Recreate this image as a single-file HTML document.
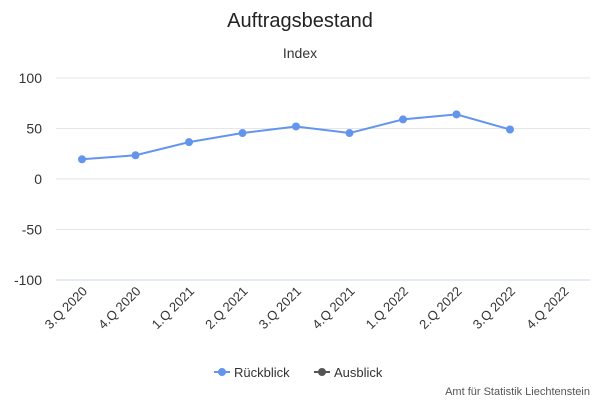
<!DOCTYPE html>
<html><head><meta charset="utf-8"><style>
body{margin:0;background:#fff;font-family:"Liberation Sans",sans-serif;}
svg text{font-family:"Liberation Sans",sans-serif;}
</style></head><body>
<svg width="600" height="400" id="c">
<text x="300" y="27" text-anchor="middle" font-size="20" fill="#222">Auftragsbestand</text>
<text x="300" y="58" text-anchor="middle" font-size="14" fill="#333">Index</text>
<g id="grid"></g><g id="xl"></g><g id="series"></g>
<g>
<g><line x1="214" y1="372" x2="230" y2="372" stroke="#6495ed" stroke-width="2"/><circle cx="222" cy="372" r="4" fill="#6495ed"/><text x="234" y="377" font-size="13" fill="#333">Rückblick</text></g>
<g><line x1="314" y1="372" x2="330" y2="372" stroke="#555" stroke-width="2"/><circle cx="322" cy="372" r="4" fill="#555"/><text x="334" y="377" font-size="13" fill="#333">Ausblick</text></g>
</g>
<text x="590" y="395" text-anchor="end" font-size="11" fill="#555">Amt für Statistik Liechtenstein</text>
</svg>
<script>
const categories=["3.Q 2020","4.Q 2020","1.Q 2021","2.Q 2021","3.Q 2021","4.Q 2021","1.Q 2022","2.Q 2022","3.Q 2022","4.Q 2022"];
const rueckblick=[19.5,23.5,36.5,45.5,52,45.5,59,64,49,null];
const yTicks=[100,50,0,-50,-100];
const NS="http://www.w3.org/2000/svg";
const L=55.25,R=590.25,bw=(R-L)/categories.length;
const x=i=>L+bw*(i+0.5);
const y=v=>179-v*1.01;
function mk(t,a,p){const e=document.createElementNS(NS,t);for(const k in a)e.setAttribute(k,a[k]);p.appendChild(e);return e;}
const g=document.getElementById('grid');
yTicks.forEach(t=>{
 const ln=mk('line',{x1:56,x2:590,y1:y(t),y2:y(t),stroke:t===-100?'#ccd6eb':'#e6e6e6','stroke-width':1},g);
 
 
 const tx=mk('text',{x:42,y:y(t)+5,'text-anchor':'end','font-size':14,fill:'#333'},g);
 tx.textContent=t;
 
 
});
const xl=document.getElementById('xl');
categories.forEach((c,i)=>{
 const tx=mk('text',{x:x(i)+6,y:292,'text-anchor':'end','font-size':13,fill:'#333',transform:`rotate(-45 ${x(i)+6} 292)`},xl);
 tx.textContent=c;
 
 
});
const s=document.getElementById('series');
const pts=rueckblick.map((v,i)=>v==null?null:[x(i),y(v)]).filter(p=>p);
const pl=mk('polyline',{points:pts.map(p=>p.join(',')).join(' '),fill:'none',stroke:'#6495ed','stroke-width':2},s);


pts.forEach(p=>{
 const c=mk('circle',{cx:p[0],cy:p[1],r:4,fill:'#6495ed'},s);
 
 
});
</script>
</body></html>
